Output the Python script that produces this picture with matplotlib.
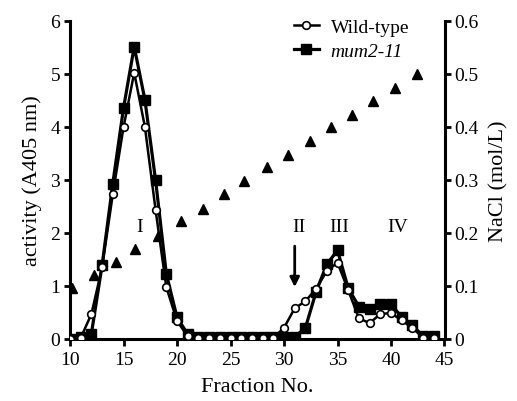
import numpy as np
import matplotlib
matplotlib.use('Agg')
import matplotlib.pyplot as plt
from matplotlib.lines import Line2D

plt.rcParams['font.family'] = ['Liberation Serif', 'DejaVu Serif']

# ── data ──────────────────────────────────────────────────────────────────────
fractions = list(range(10, 45))

wild_type = [0.0, 0.02, 0.47, 1.35, 2.73, 3.99, 5.02, 4.00, 2.43, 0.98,
             0.34, 0.05, 0.02, 0.02, 0.02, 0.02, 0.02, 0.02, 0.02, 0.02,
             0.21, 0.58, 0.71, 0.95, 1.28, 1.44, 0.92, 0.39, 0.30, 0.47,
             0.49, 0.35, 0.21, 0.02, 0.02]

mum2_11 = [0.0, 0.03, 0.10, 1.39, 2.93, 4.35, 5.51, 4.51, 2.99, 1.23,
           0.41, 0.09, 0.03, 0.03, 0.03, 0.03, 0.03, 0.03, 0.03, 0.03,
           0.04, 0.04, 0.21, 0.89, 1.41, 1.67, 0.96, 0.61, 0.57, 0.66,
           0.66, 0.41, 0.26, 0.05, 0.05]

nacl_frac = [10.2, 12.2, 14.3, 16.1, 18.2, 20.4, 22.4, 24.4, 26.3, 28.4,
             30.4, 32.4, 34.4, 36.4, 38.3, 40.4, 42.4]
nacl_conc = [0.096, 0.121, 0.146, 0.170, 0.195, 0.222, 0.245, 0.273, 0.297,
             0.324, 0.347, 0.374, 0.399, 0.422, 0.448, 0.473, 0.499]

peak_labels = ['I', 'II', 'III', 'IV']
peak_x = [16.5, 31.4, 35.2, 40.6]
peak_y = [2.12, 2.12, 2.12, 2.12]

left_ticks = [0, 1, 2, 3, 4, 5, 6]
right_ticks = [0, 0.1, 0.2, 0.3, 0.4, 0.5, 0.6]
right_ticklabels = ['0', '0.1', '0.2', '0.3', '0.4', '0.5', '0.6']
x_ticks = [10, 15, 20, 25, 30, 35, 40, 45]

# ── figure ─────────────────────────────────────────────────────────────────────
fig = plt.figure(figsize=(5.17, 4.02), dpi=100)
ax = fig.add_axes([70 / 517, 1 - 340 / 402, (444.5 - 70) / 517, (340 - 21.7) / 402])
ax2 = ax.twinx()

LW = 2.3
ax.plot(fractions, mum2_11, '-', color='black', lw=LW, marker='s', ms=6.5,
        mfc='black', mec='black', zorder=3)
ax.plot(fractions, wild_type, '-', color='black', lw=1.8, marker='o', ms=5.5,
        mfc='white', mec='black', mew=1.2, zorder=4)
ax2.plot(nacl_frac, nacl_conc, linestyle='none', marker='^', ms=7.5,
         color='black', zorder=2)

ax.set_xlim(10, 45)
ax.set_ylim(0, 6)
ax2.set_ylim(0, 0.6)
ax.set_xticks(x_ticks)
ax.set_yticks(left_ticks)
ax2.set_yticks(right_ticks)
ax2.set_yticklabels(right_ticklabels)

for a in (ax, ax2):
    a.spines['top'].set_visible(False)
    for s in ('left', 'right', 'bottom'):
        a.spines[s].set_linewidth(2.2)
    a.tick_params(direction='out', length=4, width=2, labelsize=14, pad=3)
ax.tick_params(axis='x', length=5, pad=4)
ax2.spines['left'].set_visible(False)
ax2.spines['bottom'].set_visible(False)
ax.spines['right'].set_visible(False)

ax.set_xlabel('Fraction No.', fontsize=16, labelpad=6)
ax.set_ylabel('activity (A405 nm)', fontsize=16, labelpad=6)
ax2.set_ylabel('NaCl (mol/L)', fontsize=16, labelpad=8)

for lbl, px, py in zip(peak_labels, peak_x, peak_y):
    ax.text(px, py, lbl, fontsize=14, ha='center', va='center')

ax.annotate('', xy=(31.0, 0.98), xytext=(31.0, 1.75),
            arrowprops=dict(arrowstyle='-|>', color='black', lw=2,
                            mutation_scale=14, shrinkA=0, shrinkB=0))

handles = [
    Line2D([], [], color='black', lw=1.8, marker='o', ms=5.5, mfc='white',
           mec='black', mew=1.2),
    Line2D([], [], color='black', lw=LW, marker='s', ms=6.5, mfc='black'),
]
leg = fig.legend(handles, ['Wild-type', 'mum2-11'], loc='upper left',
                 bbox_to_anchor=(280 / 517, 1 - 6 / 402), frameon=False,
                 fontsize=14, handlelength=1.3, handletextpad=0.6,
                 labelspacing=0.3, borderpad=0.2)
leg.get_texts()[1].set_fontstyle('italic')

fig.savefig('out.png', dpi=100)
